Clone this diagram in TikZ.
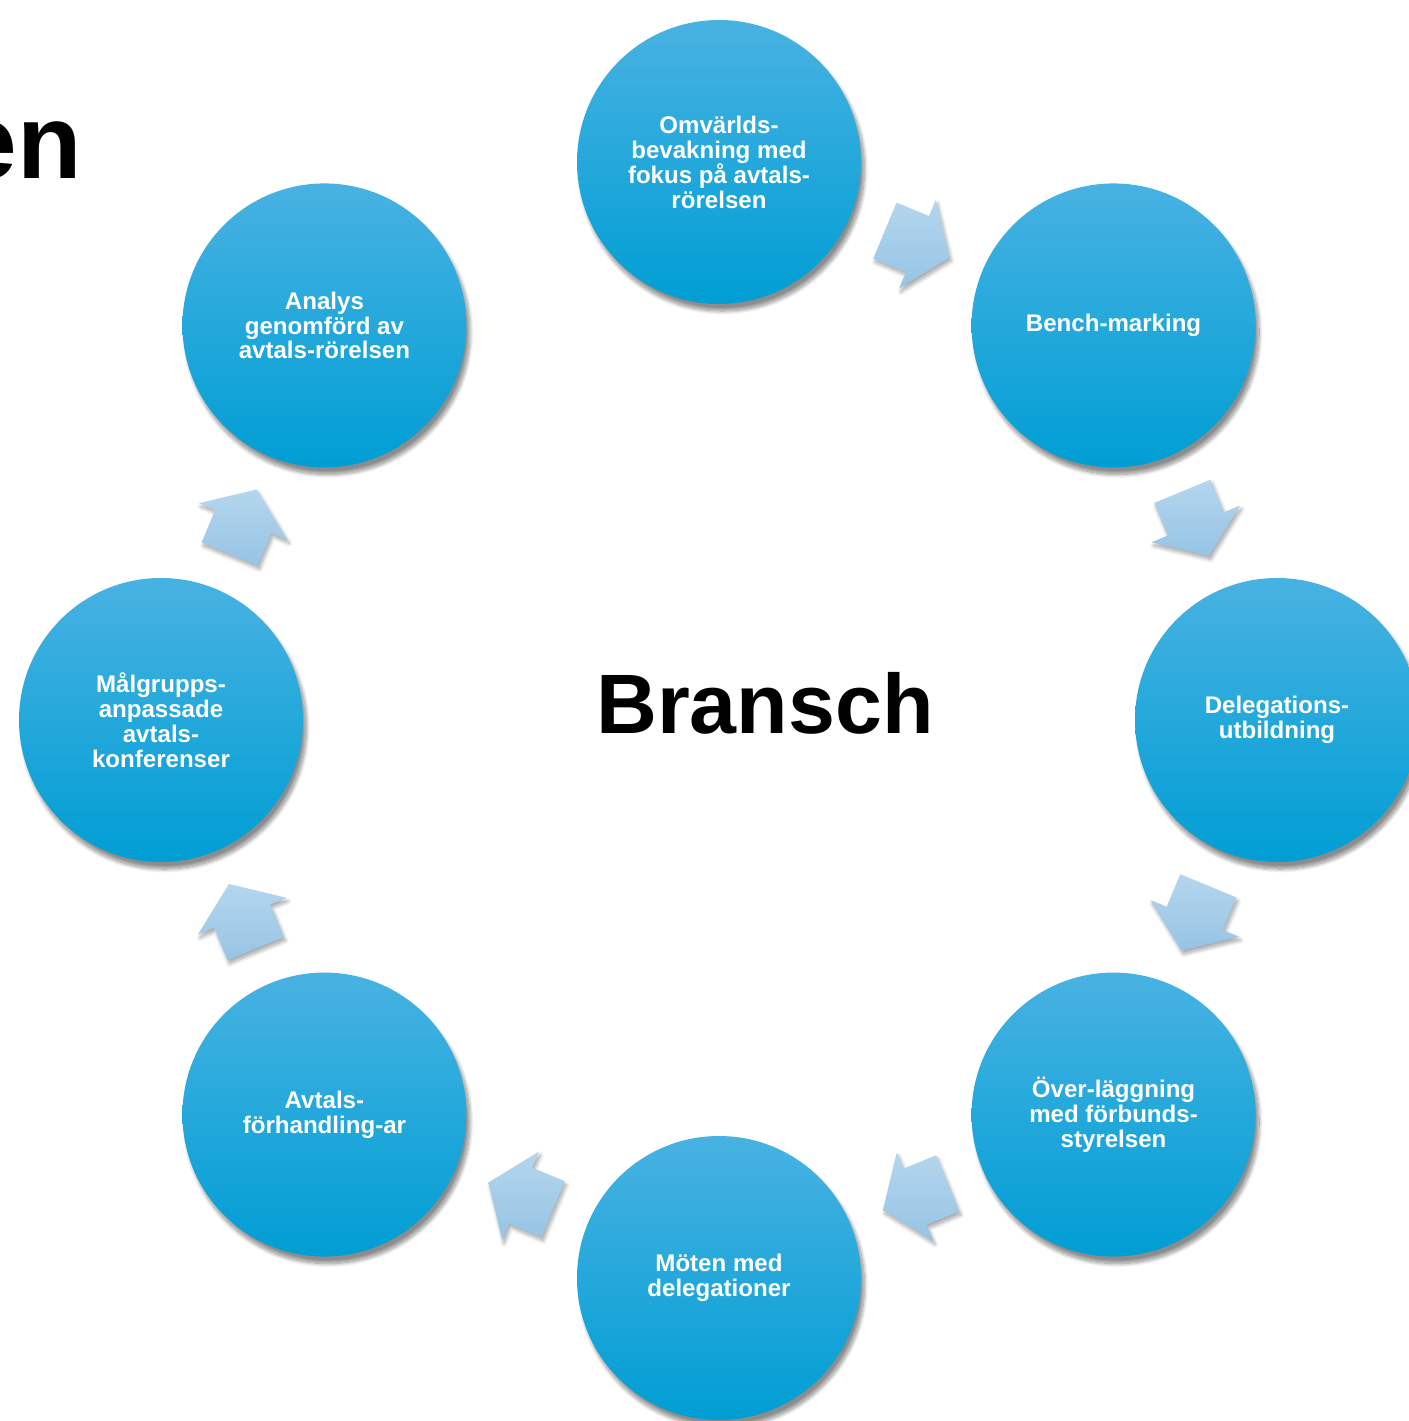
\documentclass[tikz,border=0pt]{standalone}
\usepackage{fontspec}
\setmainfont{Liberation Sans}
\usetikzlibrary{calc}
\usetikzlibrary{shapes.arrows}
\usetikzlibrary{shadows.blur}
\definecolor{circtop}{RGB}{72,178,226}
\definecolor{circmid}{RGB}{18,172,226}
\definecolor{circbot}{RGB}{0,158,212}
\definecolor{arrtop}{RGB}{180,214,238}
\definecolor{arrbot}{RGB}{150,196,228}
\tikzset{
	step circle/.style={
		circle,
		minimum size=5.68cm,
		inner sep=0pt,
		top color=circtop,
		middle color=circmid,
		bottom color=circbot,
		text=white,
		align=center,
		font=\fontsize{13.7}{14.2}\selectfont\bfseries,
		blur shadow={shadow xshift=2pt, shadow yshift=-4pt, shadow blur steps=12, shadow opacity=45},
	},
	flow/.style={
		single arrow,
		rotate=#1,
		xshift=-0.2cm,
		minimum height=1.4cm,
		inner xsep=0pt,
		inner ysep=0.6cm,
		single arrow head extend=0.35cm,
		single arrow tip angle=108,
		top color=arrtop,
		bottom color=arrbot,
		blur shadow={shadow xshift=1pt, shadow yshift=-2pt, shadow blur steps=8, shadow opacity=35},
	},
}

\begin{document}
\begin{tikzpicture}
	\useasboundingbox (-14.38,-14.02) rectangle (13.8,14.4);

	\node[anchor=base east,font=\fontsize{60}{60}\selectfont\bfseries] (title) at (-12.62,10.84) {en};

	\node[step circle] (omv)    at (90:11.16)   {Omvärlds-\\bevakning med\\fokus på avtals-\\rörelsen};
	\node[step circle] (bench)  at (45:11.16)   {Bench-marking};
	\node[step circle] (deleg)  at (0:11.16)    {Delegations-\\utbildning};
	\node[step circle] (overl)  at (-45:11.16)  {Över-läggning\\med förbunds-\\styrelsen};
	\node[step circle] (moten)  at (-90:11.16)  {Möten med\\delegationer};
	\node[step circle] (avtals) at (-135:11.16) {Avtals-\\förhandling-ar};
	\node[step circle] (malgr)  at (180:11.16)  {Målgrupps-\\anpassade\\avtals-\\konferenser};
	\node[step circle] (analys) at (135:11.16)  {Analys\\genomförd av\\avtals-rörelsen};

	\node[flow=-22.5]  (a1) at ($(omv)!0.5!(bench)$) {};
	\node[flow=-67.5]  (a2) at ($(bench)!0.5!(deleg)$) {};
	\node[flow=-112.5] (a3) at ($(deleg)!0.5!(overl)$) {};
	\node[flow=-157.5] (a4) at ($(overl)!0.5!(moten)$) {};
	\node[flow=157.5]  (a5) at ($(moten)!0.5!(avtals)$) {};
	\node[flow=112.5]  (a6) at ($(avtals)!0.5!(malgr)$) {};
	\node[flow=67.5]   (a7) at ($(malgr)!0.5!(analys)$) {};

	\node[anchor=base,font=\fontsize{48}{48}\selectfont\bfseries] (center) at (0.92,-0.26) {Bransch};

\end{tikzpicture}
\end{document}
